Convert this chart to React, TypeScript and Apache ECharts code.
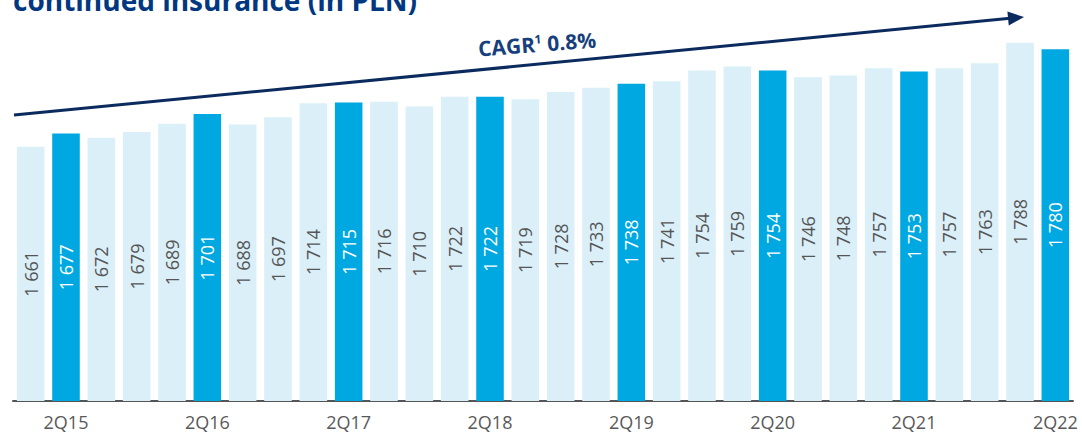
import React, { useEffect, useRef } from "react";
import * as echarts from "echarts";

const categories = [
  "1Q15", "2Q15", "3Q15", "4Q15",
  "1Q16", "2Q16", "3Q16", "4Q16",
  "1Q17", "2Q17", "3Q17", "4Q17",
  "1Q18", "2Q18", "3Q18", "4Q18",
  "1Q19", "2Q19", "3Q19", "4Q19",
  "1Q20", "2Q20", "3Q20", "4Q20",
  "1Q21", "2Q21", "3Q21", "4Q21",
  "1Q22", "2Q22",
];

const values = [
  1661, 1677, 1672, 1679,
  1689, 1701, 1688, 1697,
  1714, 1715, 1716, 1710,
  1722, 1722, 1719, 1728,
  1733, 1738, 1741, 1754,
  1759, 1754, 1746, 1748,
  1757, 1753, 1757, 1763,
  1788, 1780,
];

const titleText = "continued insurance (in PLN)";
const cagrLabel = "CAGR";
const cagrNote = "1";
const cagrValue = "0.8%";

const LIGHT = "#daeff8";
const DARK = "#00a8e1";
const NAVY = "#0b2b5e";

function fmt(v: number): string {
  const th = Math.floor(v / 1000);
  const rest = String(v % 1000).padStart(3, "0");
  return `${th} ${rest}`;
}

export default function App() {
  const ref = useRef<HTMLDivElement>(null);

  useEffect(() => {
    document.body.style.margin = "0";
    if (!ref.current) return;
    const chart = echarts.init(ref.current, null, { renderer: "svg" });

    const data = values.map((v, i) => {
      const hl = categories[i].startsWith("2Q");
      return {
        value: v,
        itemStyle: { color: hl ? DARK : LIGHT },
        label: { color: hl ? "#ffffff" : "#555555" },
      };
    });

    // arrow geometry
    const x1 = 14, y1 = 115, tx = 1024, ty = 17;
    const dx = tx - x1, dy = ty - y1;
    const len = Math.sqrt(dx * dx + dy * dy);
    const ux = dx / len, uy = dy / len;
    const px = -uy, py = ux;
    const headLen = 16, headHalf = 7;
    const bx = tx - ux * headLen, by = ty - uy * headLen;

    chart.setOption({
      animation: false,
      grid: { left: 13, right: 9, top: 33, bottom: 35, containLabel: false },
      xAxis: {
        type: "category",
        data: categories,
        axisLine: { show: true, lineStyle: { color: "#555555", width: 2 } },
        axisTick: { show: false },
        axisLabel: {
          interval: (i: number) => i % 4 === 1,
          color: "#595959",
          fontSize: 18,
          fontFamily: "Open Sans",
          margin: 12,
        },
      },
      yAxis: {
        type: "value",
        min: 1350,
        max: 1800,
        show: false,
        splitLine: { show: false },
      },
      series: [
        {
          type: "bar",
          data,
          barWidth: "78%",
          label: {
            show: true,
            position: "inside",
            rotate: 90,
            fontSize: 18,
            fontFamily: "Open Sans",
            formatter: (p: any) => fmt(p.value),
          },
        },
      ],
      graphic: [
        {
          type: "text",
          left: 13,
          top: -14,
          style: {
            text: titleText,
            fill: "#003781",
            font: "bold 28px 'Open Sans'",
          },
        },
        {
          type: "line",
          shape: { x1, y1, x2: bx + ux * 2, y2: by + uy * 2 },
          style: { stroke: NAVY, lineWidth: 3 },
        },
        {
          type: "polygon",
          shape: {
            points: [
              [tx, ty],
              [bx + px * headHalf, by + py * headHalf],
              [bx - px * headHalf, by - py * headHalf],
            ],
          },
          style: { fill: NAVY },
        },
        {
          type: "text",
          x: 537,
          y: 44,
          rotation: 0.075,
          style: {
            text: `{a|${cagrLabel}}{s|${cagrNote}}{a| ${cagrValue}}`,
            align: "center",
            verticalAlign: "middle",
            rich: {
              a: { fontSize: 21, fontWeight: "bold", fontFamily: "Open Sans", fill: "#163f7c", color: "#163f7c" },
              s: { fontSize: 12, fontWeight: "bold", fontFamily: "Open Sans", fill: "#163f7c", color: "#163f7c", verticalAlign: "top", padding: [0, 0, 10, 0] },
            },
          },
        },
      ],
    });

    return () => chart.dispose();
  }, []);

  return <div ref={ref} style={{ width: 1082, height: 436 }} />;
}
